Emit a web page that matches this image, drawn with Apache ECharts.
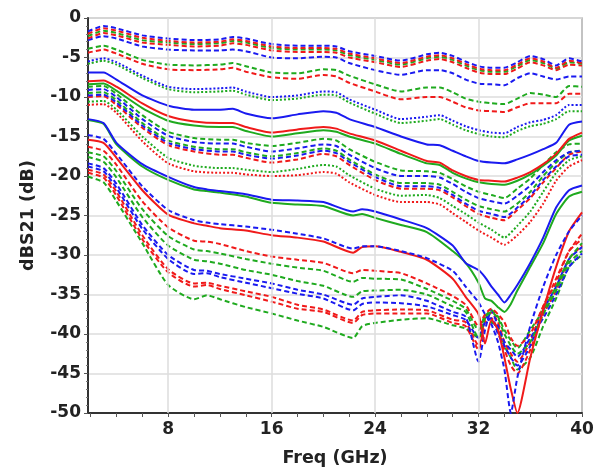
<!DOCTYPE html>
<html><head><meta charset="utf-8">
<script src="https://cdn.jsdelivr.net/npm/echarts@6/dist/echarts.min.js"></script>
<style>html,body{margin:0;padding:0;background:#fff}#c{width:598px;height:471px}</style>
</head><body><div id="c"></div>
<script>
// Frequency grids (GHz)
const freqA = [1.8,3,4,6,8,10,12,13,14,16,18,20,21,22,24,26,28,29,30,31,32,33,34,35,36,37,38,39,40];
const freqB = [1.8,3,4,6,8,10,11,12,14,16,18,20,22.3,23,24,26,28,30,31,32,32.5,33,33.5,34,34.5,35,36,37,38,39,40];
const xTickLabels = [8,16,24,32,40];
const xMinorTicks = [2,4,6,8,10,12,14,16,18,20,22,24,26,28,30,32,34,36,38,40];
const gridFreqs = [8,16,24,32];

// Upper group (freqA)
const t1BlueDash  = [-1.7,-1.0,-1.3,-2.2,-2.6,-2.8,-2.7,-2.4,-2.6,-3.3,-3.5,-3.5,-3.6,-4.2,-4.8,-5.4,-4.6,-4.4,-4.8,-5.5,-6.1,-6.3,-6.3,-5.6,-4.8,-5.2,-6.0,-5.1,-5.5];
const t2RedDash   = [-2.0,-1.3,-1.6,-2.5,-2.9,-3.1,-3.0,-2.7,-2.9,-3.6,-3.8,-3.8,-3.9,-4.5,-5.1,-5.7,-4.9,-4.7,-5.1,-5.8,-6.4,-6.6,-6.6,-5.9,-5.1,-5.5,-6.3,-5.4,-5.7];
const t3GreenDash = [-2.3,-1.6,-1.9,-2.8,-3.1,-3.3,-3.2,-2.9,-3.1,-3.8,-4.0,-4.0,-4.1,-4.7,-5.3,-5.9,-5.1,-4.9,-5.3,-6.0,-6.6,-6.8,-6.8,-6.1,-5.3,-5.7,-6.4,-5.6,-5.8];
const t4RedDash   = [-2.6,-1.9,-2.2,-3.1,-3.4,-3.6,-3.5,-3.2,-3.4,-4.1,-4.3,-4.3,-4.4,-5.0,-5.6,-6.2,-5.4,-5.2,-5.6,-6.3,-6.9,-7.1,-7.1,-6.4,-5.6,-6.0,-6.6,-5.9,-6.0];
const t5BlueDash  = [-2.8,-2.3,-2.6,-3.6,-4.0,-4.1,-4.1,-4.0,-4.2,-5.0,-5.1,-4.9,-5.0,-5.7,-6.6,-7.2,-6.6,-6.6,-7.0,-7.8,-8.3,-8.4,-8.5,-7.6,-7.0,-7.4,-7.8,-7.4,-7.4];
const t6GreenDash = [-3.9,-3.5,-4.0,-5.3,-5.9,-6.0,-5.9,-5.7,-6.1,-6.9,-7.0,-6.5,-6.6,-7.3,-8.4,-9.3,-8.8,-8.8,-9.4,-10.2,-10.6,-10.8,-10.9,-10.2,-9.5,-9.7,-10.0,-8.6,-8.7];
const t7RedDash   = [-4.4,-4.0,-4.5,-5.8,-6.5,-6.6,-6.5,-6.3,-6.8,-7.5,-7.7,-7.2,-7.4,-8.2,-9.3,-10.3,-10.0,-10.0,-10.6,-11.3,-11.7,-11.8,-11.9,-11.3,-10.8,-10.8,-10.8,-9.6,-9.6];
const d1BlueDot   = [-5.5,-5.1,-5.6,-7.3,-8.7,-9.0,-8.9,-8.8,-9.3,-10.0,-9.8,-9.3,-9.4,-10.3,-11.6,-12.8,-12.5,-12.3,-13.0,-13.7,-14.2,-14.5,-14.6,-13.8,-13.2,-12.9,-12.3,-11.0,-11.0];
const d2GreenDot  = [-5.8,-5.4,-5.9,-7.6,-9.0,-9.4,-9.3,-9.2,-9.7,-10.4,-10.2,-9.7,-9.8,-10.7,-12.1,-13.3,-13.0,-12.8,-13.5,-14.2,-14.7,-15.0,-15.1,-14.3,-13.7,-13.4,-12.8,-11.8,-11.8];
const c1BlueSolid = [-6.9,-6.9,-7.8,-9.8,-11.1,-11.6,-11.6,-11.5,-12.1,-12.7,-12.2,-11.8,-12.0,-12.8,-13.8,-15.0,-16.0,-16.1,-16.8,-17.5,-18.1,-18.3,-18.4,-17.9,-17.3,-16.6,-15.8,-13.5,-13.1];
const c2RedSolid  = [-8.0,-7.9,-8.7,-10.8,-12.4,-13.1,-13.3,-13.3,-13.8,-14.5,-14.1,-13.8,-14.0,-14.6,-15.5,-16.8,-18.1,-18.3,-19.3,-20.0,-20.5,-20.6,-20.7,-20.2,-19.5,-18.5,-17.2,-15.3,-14.5];
const c3GreenSolid= [-8.4,-8.3,-9.2,-11.4,-13.0,-13.6,-13.8,-13.8,-14.3,-15.0,-14.6,-14.2,-14.4,-15.0,-15.9,-17.2,-18.4,-18.6,-19.6,-20.3,-20.8,-21.0,-21.1,-20.6,-19.8,-18.7,-17.4,-15.5,-14.9];
const e1GreenDash = [-8.7,-8.6,-9.6,-12.3,-14.4,-15.2,-15.4,-15.4,-15.8,-16.2,-15.8,-15.3,-15.5,-16.6,-18.2,-19.3,-19.4,-19.6,-20.4,-21.3,-22.0,-22.4,-22.8,-21.6,-20.3,-18.6,-17.0,-16.0,-15.9];
const e2BlueDash  = [-9.1,-9.0,-10.0,-12.8,-14.9,-15.7,-15.9,-15.9,-16.3,-16.9,-16.5,-16.0,-16.2,-17.3,-19.0,-20.0,-20.0,-20.2,-21.0,-22.0,-22.8,-23.2,-23.5,-22.5,-21.2,-19.5,-18.0,-17.0,-16.8];
const e3GreenDash = [-9.5,-9.4,-10.4,-13.3,-15.5,-16.3,-16.6,-16.6,-17.0,-17.5,-17.1,-16.5,-16.8,-17.9,-19.8,-20.9,-20.9,-21.1,-22.0,-23.0,-23.8,-24.2,-24.5,-23.5,-22.0,-20.0,-18.3,-17.0,-16.8];
const e4BlueDash  = [-9.8,-9.7,-10.7,-13.6,-15.8,-16.6,-16.9,-16.9,-17.3,-17.8,-17.4,-16.8,-17.1,-18.2,-20.1,-21.3,-21.3,-21.5,-22.4,-23.5,-24.4,-24.8,-25.2,-24.0,-22.5,-20.5,-18.8,-17.5,-17.3];
const e5RedDash   = [-10.0,-9.9,-11.0,-13.9,-16.1,-16.9,-17.3,-17.3,-17.7,-18.3,-17.9,-17.2,-17.5,-18.6,-20.5,-21.6,-21.6,-21.8,-22.7,-23.8,-24.8,-25.3,-25.6,-24.3,-22.8,-20.8,-19.0,-17.3,-16.9];
const f1GreenDot  = [-10.6,-10.5,-11.6,-15.0,-17.7,-18.7,-19.0,-19.0,-19.2,-19.5,-19.1,-18.6,-18.8,-19.9,-21.6,-22.5,-22.4,-22.8,-23.8,-24.8,-25.9,-26.8,-27.8,-26.3,-24.5,-22.0,-19.6,-18.0,-17.5];
const f2RedDot    = [-11.0,-10.9,-12.0,-15.6,-18.4,-19.4,-19.6,-19.6,-19.8,-20.0,-19.9,-19.5,-19.7,-20.8,-22.4,-23.3,-23.3,-23.6,-24.7,-25.8,-26.9,-27.8,-28.7,-27.5,-25.8,-23.5,-20.6,-18.8,-18.0];

// Lower group (freqB)
const g1GreenSolid= [-12.9,-13.4,-16.0,-18.8,-20.5,-21.7,-21.9,-22.1,-22.6,-23.4,-23.6,-23.8,-25.0,-24.8,-25.3,-26.2,-27.1,-29.5,-31.0,-33.5,-35.5,-35.8,-36.6,-37.2,-36.2,-34.5,-31.5,-28.5,-24.8,-22.6,-22.0];
const g2BlueSolid = [-12.8,-13.3,-15.8,-18.5,-20.1,-21.4,-21.7,-21.9,-22.3,-23.0,-23.1,-23.3,-24.5,-24.2,-24.5,-25.5,-26.6,-28.8,-31.0,-31.9,-32.8,-34.0,-35.0,-36.0,-35.0,-33.8,-31.0,-27.8,-24.0,-21.8,-21.2];
const h1BlueDash  = [-14.8,-15.3,-17.2,-21.3,-24.3,-25.6,-25.9,-26.1,-26.4,-26.8,-27.3,-27.9,-29.2,-28.9,-28.9,-29.5,-30.4,-32.0,-34.0,-36.0,-37.5,-38.8,-41.0,-44.5,-50.0,-45.5,-39.0,-34.0,-30.0,-27.0,-25.0];
const h2RedSolid  = [-15.4,-15.8,-17.7,-21.8,-24.9,-26.0,-26.3,-26.6,-26.9,-27.5,-27.8,-28.3,-29.7,-29.0,-28.9,-29.6,-30.6,-33.0,-35.3,-37.5,-41.2,-38.2,-39.5,-43.0,-47.0,-50.0,-43.0,-37.0,-31.5,-27.0,-24.6];
const k1RedDash   = [-16.3,-16.8,-18.6,-23.2,-26.5,-28.2,-28.3,-28.6,-29.5,-30.2,-30.6,-31.0,-32.3,-31.9,-32.0,-32.3,-33.6,-35.2,-36.3,-39.0,-37.5,-36.8,-37.5,-38.5,-40.5,-41.5,-40.0,-36.5,-33.0,-29.5,-27.3];
const k2GreenDash = [-17.0,-17.5,-19.4,-24.2,-27.6,-29.3,-29.5,-29.8,-30.5,-31.1,-31.6,-32.0,-33.4,-32.9,-33.0,-33.1,-34.3,-35.8,-36.8,-39.5,-37.8,-37.0,-37.8,-39.5,-40.8,-41.8,-39.5,-37.0,-34.0,-30.5,-28.5];
const k3GreenDash = [-17.6,-18.2,-20.2,-25.2,-28.8,-30.6,-30.8,-31.1,-31.9,-32.5,-33.3,-33.9,-35.3,-34.6,-34.5,-34.4,-35.0,-36.5,-37.2,-40.5,-38.0,-37.2,-38.0,-40.0,-41.5,-42.5,-41.0,-37.5,-34.5,-31.0,-29.5];
const k4BlueDash  = [-18.4,-19.0,-21.0,-26.2,-30.0,-31.9,-32.0,-32.4,-33.0,-33.6,-34.4,-35.0,-36.3,-35.5,-35.3,-35.1,-35.8,-37.2,-37.8,-43.5,-39.5,-37.0,-39.0,-41.0,-42.0,-42.9,-40.5,-38.0,-35.0,-31.5,-29.8];
const k5BlueDash  = [-18.8,-19.4,-21.5,-26.7,-30.5,-32.4,-32.3,-32.8,-33.5,-34.2,-34.9,-35.5,-37.0,-36.2,-36.0,-36.1,-36.5,-37.6,-38.2,-40.5,-38.5,-38.0,-40.0,-41.5,-43.0,-44.0,-41.5,-37.0,-34.0,-30.5,-29.0];
const k6RedDash   = [-19.2,-19.8,-22.0,-27.5,-31.8,-33.6,-33.5,-33.9,-34.6,-35.3,-36.3,-36.9,-38.3,-37.2,-37.0,-36.9,-37.0,-38.2,-38.5,-41.5,-38.0,-37.3,-38.5,-41.0,-42.5,-43.5,-41.0,-36.5,-33.5,-29.5,-28.0];
const k7RedDash   = [-19.6,-20.2,-22.5,-28.0,-32.2,-34.0,-33.8,-34.3,-35.1,-35.9,-36.8,-37.2,-38.6,-37.6,-37.4,-37.4,-37.4,-38.6,-39.0,-42.0,-38.5,-38.0,-39.5,-42.0,-44.0,-45.0,-42.0,-37.5,-34.5,-30.5,-28.8];
const k8GreenDash = [-20.1,-20.8,-23.2,-28.5,-33.8,-35.6,-35.1,-35.6,-36.6,-37.4,-38.3,-39.1,-40.5,-39.0,-38.6,-38.2,-38.0,-38.9,-39.3,-40.5,-37.5,-38.5,-39.0,-41.5,-43.0,-44.5,-43.0,-39.0,-35.5,-31.5,-30.0];

const RED = '#f01a1a', GREEN = '#1faa1f', BLUE = '#1a1af0';
const DASH = [5,3], DOT = [2,2];

// [values, x grid, color, style]
const seriesTable = [
  [k8GreenDash, freqB, GREEN, DASH], [k7RedDash, freqB, RED, DASH], [k6RedDash, freqB, RED, DASH],
  [k5BlueDash, freqB, BLUE, DASH], [k4BlueDash, freqB, BLUE, DASH], [k3GreenDash, freqB, GREEN, DASH],
  [k2GreenDash, freqB, GREEN, DASH], [k1RedDash, freqB, RED, DASH],
  [h2RedSolid, freqB, RED, 'solid'], [h1BlueDash, freqB, BLUE, DASH],
  [g1GreenSolid, freqB, GREEN, 'solid'], [g2BlueSolid, freqB, BLUE, 'solid'],
  [f2RedDot, freqA, RED, DOT], [f1GreenDot, freqA, GREEN, DOT],
  [e5RedDash, freqA, RED, DASH], [e4BlueDash, freqA, BLUE, DASH], [e3GreenDash, freqA, GREEN, DASH],
  [e2BlueDash, freqA, BLUE, DASH], [e1GreenDash, freqA, GREEN, DASH],
  [c3GreenSolid, freqA, GREEN, 'solid'], [c2RedSolid, freqA, RED, 'solid'], [c1BlueSolid, freqA, BLUE, 'solid'],
  [d2GreenDot, freqA, GREEN, DOT], [d1BlueDot, freqA, BLUE, DOT],
  [t7RedDash, freqA, RED, DASH], [t6GreenDash, freqA, GREEN, DASH], [t5BlueDash, freqA, BLUE, DASH],
  [t4RedDash, freqA, RED, DASH], [t3GreenDash, freqA, GREEN, DASH], [t2RedDash, freqA, RED, DASH],
  [t1BlueDash, freqA, BLUE, DASH]
];

const series = [{
  type: 'line', data: [], z: 1, silent: true,
  markLine: { silent: true, symbol: 'none', label: {show: false},
    lineStyle: {color: '#dcdcdc', width: 1.5, type: 'solid'},
    data: gridFreqs.map(f => ({xAxis: f})) }
}];
seriesTable.forEach(([vals, xs, color, style]) => {
  series.push({
    type: 'line', showSymbol: false, symbol: 'none', smooth: 0.2, z: 3,
    data: xs.map((x, i) => [x, vals[i]]),
    lineStyle: {color, width: 2, type: style}, itemStyle: {color}
  });
});

const FONT = 'DejaVu Sans';
const chart = echarts.init(document.getElementById('c'), null, {renderer: 'canvas'});
chart.setOption({
  animation: false,
  backgroundColor: '#fff',
  grid: {left: 88, right: 16, top: 18, bottom: 58, show: true, borderColor: '#b0b0b0', borderWidth: 1.5,
         containLabel: false, outerBoundsMode: 'none'},
  xAxis: {
    type: 'value', min: 1.8, max: 40,
    name: 'Freq (GHz)', nameLocation: 'middle', nameGap: 36,
    nameTextStyle: {fontFamily: FONT, fontWeight: 'bold', fontSize: 17.5, color: '#222'},
    axisLine: {show: true, onZero: false, lineStyle: {color: '#333', width: 2}},
    axisTick: {show: true, length: 4, customValues: xMinorTicks, lineStyle: {color: '#555'}},
    axisLabel: {customValues: xTickLabels, fontFamily: FONT, fontWeight: 'bold', fontSize: 17, color: '#222', margin: 8},
    splitLine: {show: false}
  },
  yAxis: {
    type: 'value', min: -50, max: 0, interval: 5,
    name: 'dBS21 (dB)', nameLocation: 'middle', nameGap: 51, nameRotate: 90,
    nameTextStyle: {fontFamily: FONT, fontWeight: 'bold', fontSize: 17.5, color: '#222'},
    axisLine: {show: true, onZero: false, lineStyle: {color: '#333', width: 2}},
    axisTick: {show: true, length: 4, lineStyle: {color: '#555'}},
    minorTick: {show: true, splitNumber: 5, length: 2, lineStyle: {color: '#777'}},
    axisLabel: {fontFamily: FONT, fontWeight: 'bold', fontSize: 17, color: '#222', margin: 7},
    splitLine: {show: true, lineStyle: {color: '#dcdcdc', width: 1.5}}
  },
  series
});
</script></body></html>
